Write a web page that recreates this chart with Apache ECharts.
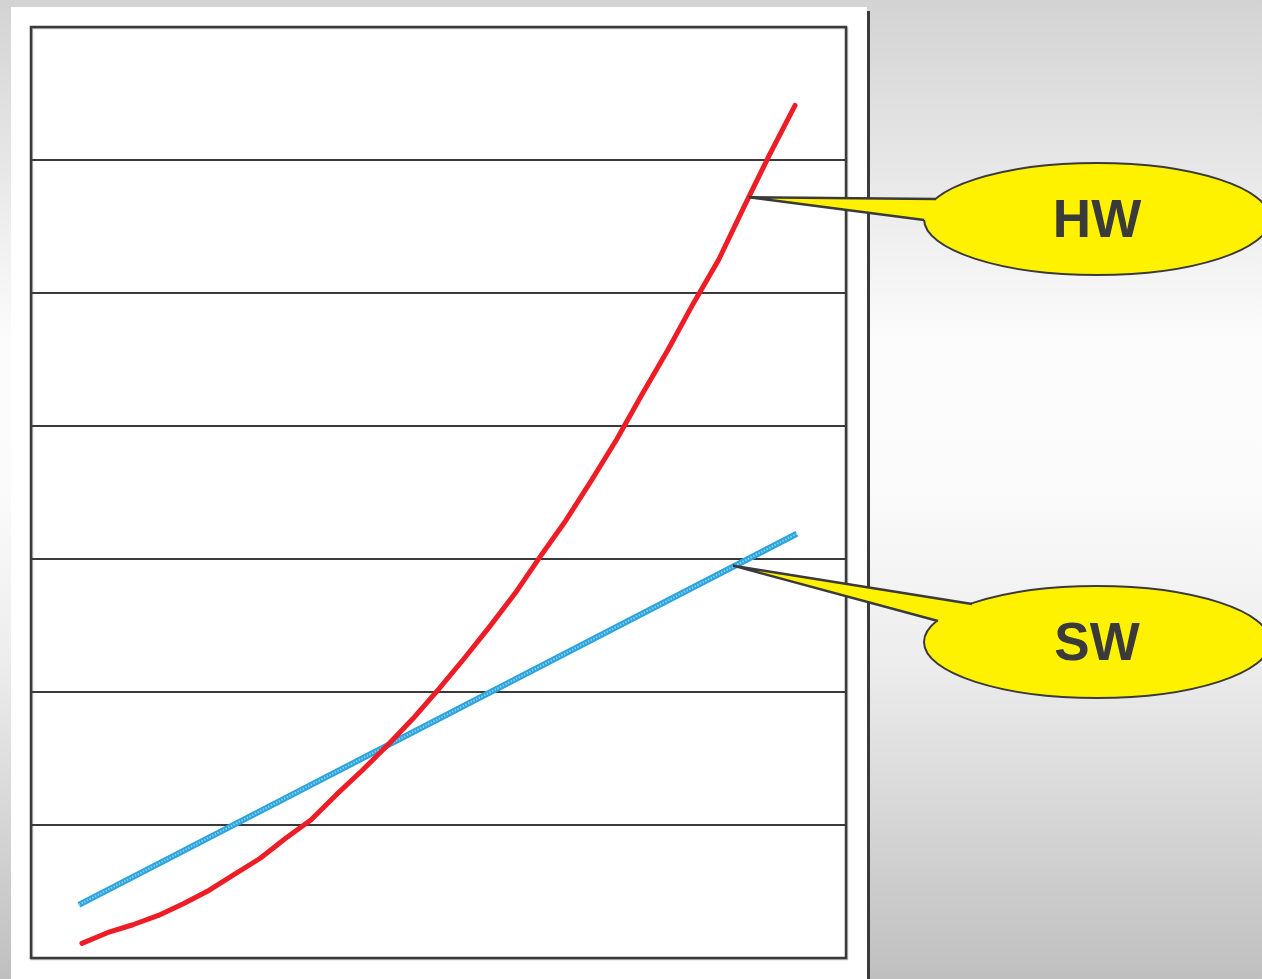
<!DOCTYPE html>
<html>
<head>
<meta charset="utf-8">
<script src="https://cdn.jsdelivr.net/npm/echarts@6/dist/echarts.min.js"></script>
<style>
html,body{margin:0;padding:0;width:1262px;height:979px;overflow:hidden;}
#chart{width:1262px;height:979px;}
</style>
</head>
<body>
<div id="chart"></div>
<script>
// x positions (time steps) and values
const xSteps = [2,3,4,5,6,7,8,9,10,11,12,13,14,15,16,17,18,19,20,21,22,23,24,25,26,27,28,29,30];
const hwValues = [0.11,0.19,0.25,0.32,0.41,0.51,0.63,0.75,0.90,1.04,1.23,1.41,1.60,1.80,2.02,2.25,2.49,2.74,3.02,3.29,3.59,3.90,4.24,4.57,4.92,5.25,5.65,6.04,6.41];
const swXSteps = [1.88,30.07];
const swValues = [0.40,3.19];
const seriesNames = ['HW','SW'];
// callout anchor points in data coordinates
const hwAnchor = [28.19, 5.72];
const swAnchor = [27.56, 2.95];

const chart = echarts.init(document.getElementById('chart'), null, {renderer:'canvas'});
const ink = '#3a3a3a';
const yellow = '#fff200';

const option = {
  animation:false,
  backgroundColor:{
    type:'linear',x:0,y:0,x2:0,y2:1,
    colorStops:[
      {offset:0,color:'#d3d3d3'},
      {offset:0.35,color:'#fcfcfc'},
      {offset:0.5,color:'#fbfbfb'},
      {offset:0.68,color:'#ececec'},
      {offset:1,color:'#bfbfbf'}
    ]
  },
  grid:{left:31,top:27,width:815,height:931,show:true,borderColor:ink,borderWidth:2.5,backgroundColor:'#fff',
        shadowColor:'rgba(0,0,0,0.25)',shadowOffsetX:1,shadowOffsetY:1,shadowBlur:0},
  xAxis:{type:'value',min:0,max:32,show:true,axisLine:{show:false},axisTick:{show:false},axisLabel:{show:false},splitLine:{show:false}},
  yAxis:{type:'value',min:0,max:7,interval:1,axisLine:{show:false},axisTick:{show:false},axisLabel:{show:false},
         splitLine:{show:true,lineStyle:{color:ink,width:2}}},
  series:[
    {name:seriesNames[1],type:'line',data:swXSteps.map((x,i)=>[x,swValues[i]]),showSymbol:false,z:3,
     lineStyle:{color:'#2ea4dc',width:6,cap:'butt'}},
    {name:seriesNames[1]+'-tex',type:'line',data:swXSteps.map((x,i)=>[x,swValues[i]]),showSymbol:false,z:4,silent:true,
     lineStyle:{color:'#86d0f2',width:2,type:[1.5,1.5],cap:'butt'}},
    {name:seriesNames[0],type:'line',data:xSteps.map((x,i)=>[x,hwValues[i]]),showSymbol:false,z:5,
     lineStyle:{color:'#ee1c25',width:5,cap:'round',join:'round'}}
  ]
};
chart.setOption(option);

function callout(anchor, cx, cy, b1, b2, text){
  const tip = chart.convertToPixel({gridIndex:0}, anchor);
  const rx = 173, ry = 56;
  const mid = [(b1[0]+b2[0])/2 + 14, (b1[1]+b2[1])/2 + (cy-(b1[1]+b2[1])/2)*0.25];
  return [
    {type:'ellipse',shape:{cx:cx,cy:cy,rx:rx,ry:ry},style:{fill:yellow,stroke:ink,lineWidth:2},z:100},
    {type:'polygon',shape:{points:[tip,b1,mid,b2]},style:{fill:yellow,stroke:null},z:101},
    {type:'polyline',shape:{points:[b1,tip,b2]},style:{stroke:ink,lineWidth:2.5,fill:null,lineJoin:'miter'},z:102},
    {type:'text',x:cx,y:cy+3,style:{text:text,fill:ink,font:'bold 53px "Liberation Sans", Arial, sans-serif',align:'center',verticalAlign:'middle'},z:103}
  ];
}

chart.setOption({
  graphic:[
    {type:'rect',shape:{x:11,y:7,width:856,height:980},style:{fill:'#ffffff'},z:-10,silent:true},
    {type:'rect',shape:{x:867,y:11,width:3,height:980},style:{fill:ink},z:-9,silent:true},
    ...callout(hwAnchor, 1097, 219, [936,199], [924,220], seriesNames[0]),
    ...callout(swAnchor, 1097, 642, [972,604], [938,621], seriesNames[1])
  ]
});
</script>
</body>
</html>
